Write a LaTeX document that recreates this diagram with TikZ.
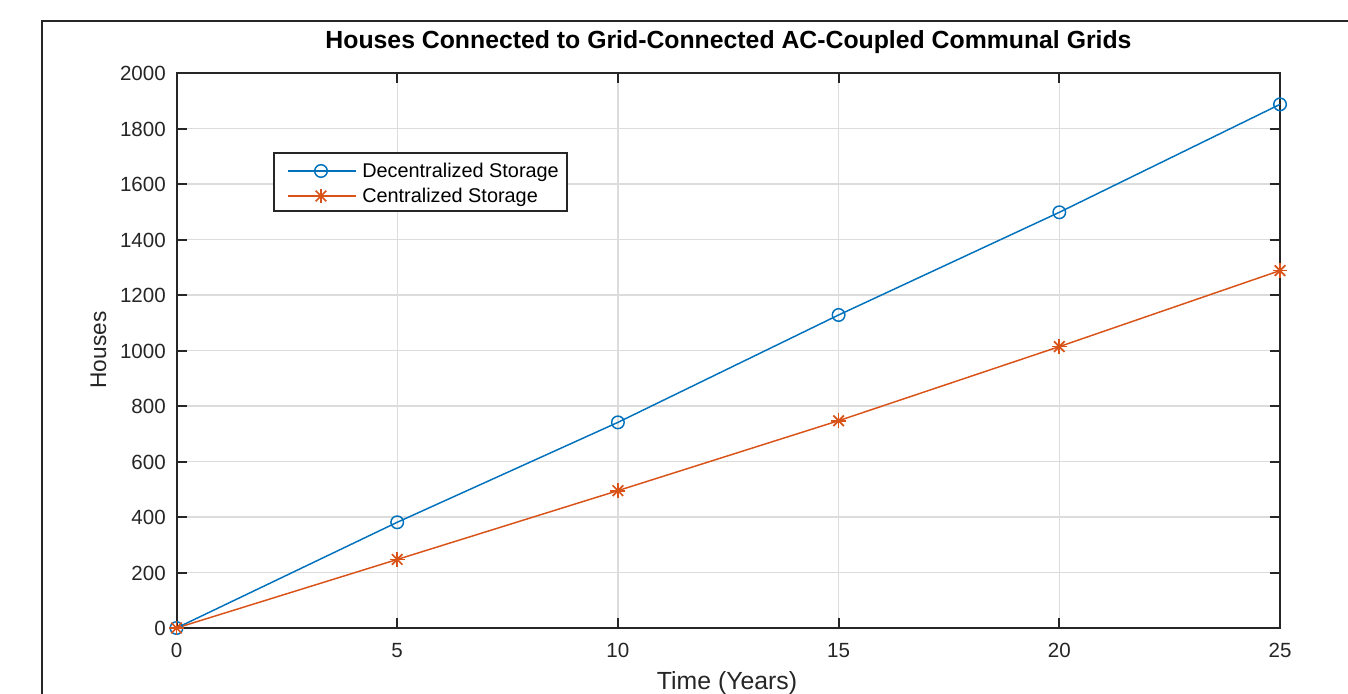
\documentclass[tikz,border=0pt]{standalone}
\usepackage{fontspec}
\setmainfont{Liberation Sans}
\definecolor{mblue}{HTML}{0072BD}
\definecolor{morange}{HTML}{D95319}
\definecolor{axc}{HTML}{262626}
\definecolor{gridc}{HTML}{DCDCDC}
\tikzset{
  gridline/.style={gridc, line width=0.9pt},
  axisline/.style={axc, line width=1.5pt},
  ticklab/.style={text=axc, font=\fontsize{15.4}{18}\selectfont, inner sep=0pt},
  axlab/.style={text=axc, font=\fontsize{17}{20}\selectfont, inner sep=0pt},
  leglab/.style={text=black, font=\fontsize{14.9}{18}\selectfont, inner sep=0pt, anchor=base west},
  bluel/.style={mblue, line width=1.1pt},
  orangel/.style={morange, line width=1.1pt},
  circmark/.style={mblue, line width=1.1pt},
  pics/astmark/.style={code={
    \foreach \a in {0,45,90,135}{\draw[morange, line width=1.3pt] (\a:5.6pt) -- (\a+180:5.6pt);}
  }}
}
\begin{document}
\begin{tikzpicture}[x=0.75pt,y=-0.75pt]
\useasboundingbox (0,0) rectangle (1348,693);
\fill[white] (0,0) rectangle (1348,693);
% outer frame
\draw[axc, line width=1.5pt] (42,700) -- (42,21) -- (1360,21);
% title
\node[anchor=base, inner sep=0pt, font=\bfseries\fontsize{18.6}{22}\selectfont] (title) at (728.5,48.5) {Houses Connected to Grid-Connected AC-Coupled Communal Grids};
% grid
\foreach \i in {1,...,4}{
  \draw[gridline] ({176.5+\i*220.7},73) -- ({176.5+\i*220.7},628);
}
\foreach \j in {1,...,9}{
  \draw[gridline] (176.5,{628-\j*55.5}) -- (1280,{628-\j*55.5});
}
% ticks
\foreach \i in {0,...,5}{
  \draw[axc, line width=1.5pt] ({176.5+\i*220.7},628) -- ({176.5+\i*220.7},618);
  \draw[axc, line width=1.5pt] ({176.5+\i*220.7},73) -- ({176.5+\i*220.7},83);
  \pgfmathtruncatemacro{\lab}{\i*5}
  \node[ticklab, anchor=base] (xt\i) at ({176.5+\i*220.7},657) {\lab};
}
\foreach \j in {0,...,10}{
  \draw[axc, line width=1.5pt] (176.5,{628-\j*55.5}) -- (186.5,{628-\j*55.5});
  \draw[axc, line width=1.5pt] (1280,{628-\j*55.5}) -- (1270,{628-\j*55.5});
  \pgfmathtruncatemacro{\lab}{\j*200}
  \node[ticklab, anchor=base east] (yt\j) at (166,{628-\j*55.5+7.5}) {\lab};
}
% axes box
\draw[axisline] (176.5,73) rectangle (1280,628);
% axis labels
\node[axlab, anchor=base, font=\fontsize{18.6}{20}\selectfont] (xlab) at (727,689) {Time (Years)};
\node[axlab, anchor=base, rotate=90] (ylab) at (106,350) {Houses};
% data
\begin{scope}[shift={(176.5,628)}, x=33.105pt, y=0.208125pt]
  \coordinate (D0) at (0,0);
  \coordinate (D5) at (5,381);
  \coordinate (D10) at (10,741);
  \coordinate (D15) at (15,1128);
  \coordinate (D20) at (20,1498);
  \coordinate (D25) at (25,1887);
  \coordinate (C0) at (0,0);
  \coordinate (C5) at (5,247);
  \coordinate (C10) at (10,495);
  \coordinate (C15) at (15,747);
  \coordinate (C20) at (20,1014);
  \coordinate (C25) at (25,1288);
  \draw[bluel] (D0) -- (D5) -- (D10) -- (D15) -- (D20) -- (D25);
  \draw[orangel] (C0) -- (C5) -- (C10) -- (C15) -- (C20) -- (C25);
  \foreach \p in {D0,D5,D10,D15,D20,D25}{
    \draw[circmark] (\p) circle[radius=4.7pt];
  }
  \foreach \p in {C0,C5,C10,C15,C20,C25}{
    \pic at (\p) {astmark};
  }
\end{scope}
% legend
\draw[axc, line width=0.9pt, fill=white] (274,153) rectangle (567,211);
\coordinate (L1a) at (288,171);
\coordinate (L1b) at (356,171);
\coordinate (L1m) at (321,171);
\coordinate (L2a) at (288,196);
\coordinate (L2b) at (356,196);
\coordinate (L2m) at (321,196);
\draw[bluel] (L1a) -- (L1b);
\draw[circmark] (L1m) circle[radius=4.7pt];
\draw[orangel] (L2a) -- (L2b);
\pic at (L2m) {astmark};
\node[leglab] (leg1) at (362,177) {Decentralized Storage};
\node[leglab] (leg2) at (362,202) {Centralized Storage};
\end{tikzpicture}
\end{document}
